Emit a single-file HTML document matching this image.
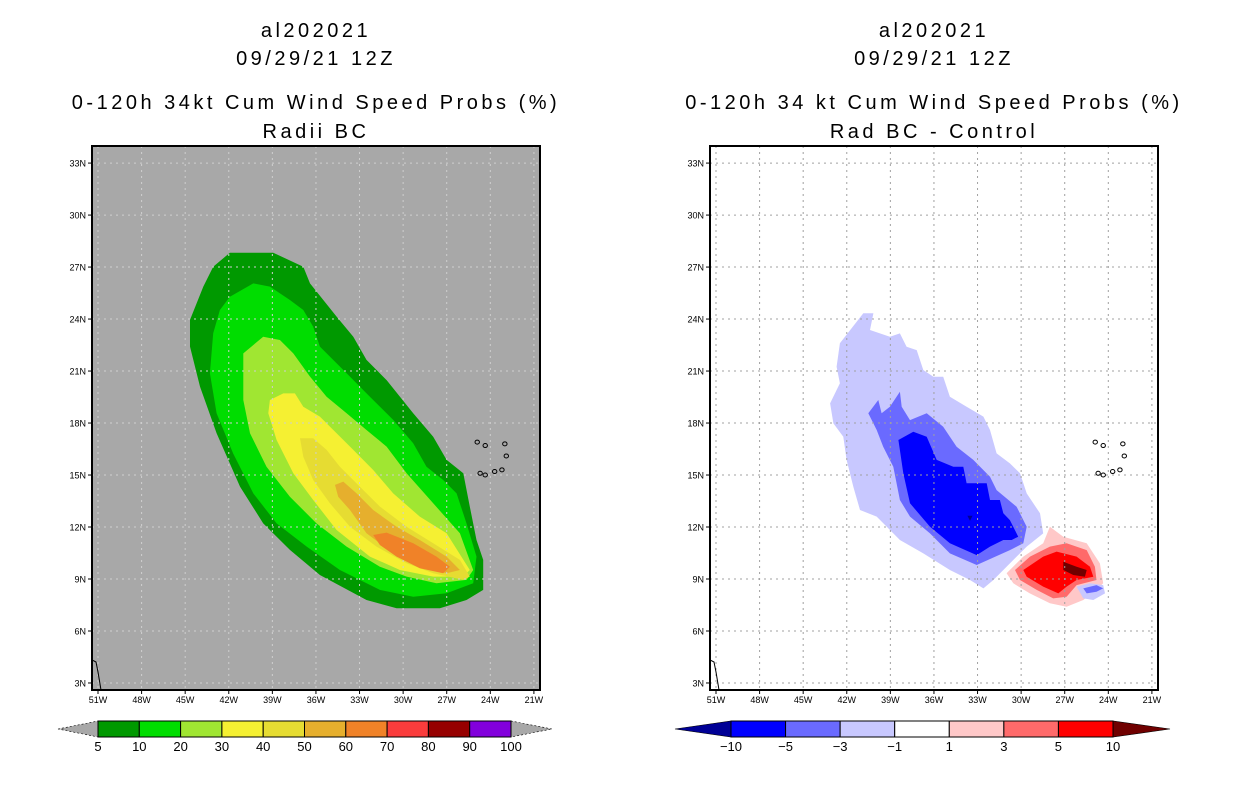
<!DOCTYPE html>
<html><head><meta charset="utf-8"><style>
html,body{margin:0;padding:0;background:#fff;}
svg{display:block;font-family:"Liberation Sans",sans-serif;}
</style></head><body>
<svg id="c" width="1236" height="800" viewBox="0 0 1236 800" xmlns="http://www.w3.org/2000/svg"></svg>
<script>
// ---------- data ----------
const latTicks = [33,30,27,24,21,18,15,12,9,6,3];
const lonTicks = [51,48,45,42,39,36,33,30,27,24,21];
const leftLevels = ["5","10","20","30","40","50","60","70","80","90","100"];
const leftColors = ["#009900","#00dd00","#a0e632","#f5f032","#e6dc32","#e6af2d","#f08228","#fa3c3c","#960000","#8200dc"];
const rightLevels = ["-10","-5","-3","-1","1","3","5","10"];
const rightColors = ["#000096","#0000ff","#6a6aff","#c8c8ff","#ffffff","#ffc8c8","#ff6a6a","#ff0000","#700000"];
// contours (west longitude, north latitude)
const p5 = [[41.92,27.83],[38.94,27.83],[36.87,27.02],[36.41,26.06],[34.58,24.14],[33.43,22.98],[32.52,21.64],[31.14,20.48],[29.31,18.56],[27.93,17.21],[27.01,15.87],[25.86,15.10],[25.41,13.18],[24.95,11.25],[24.49,10.10],[24.49,8.37],[25.64,7.79],[27.47,7.31],[30.45,7.31],[32.52,7.79],[35.73,9.23],[37.79,10.68],[39.63,12.21],[41.23,14.33],[42.84,17.41],[43.98,20.10],[44.67,22.41],[44.67,23.95],[43.75,25.87],[43.07,27.02]];
const p10 = [[41.92,25.29],[40.31,26.06],[39.17,25.87],[37.79,25.10],[36.87,24.52],[36.19,23.56],[35.73,22.41],[33.89,20.87],[32.29,19.52],[30.68,18.18],[29.31,16.83],[28.39,15.48],[27.24,14.71],[26.32,13.94],[25.64,12.21],[24.95,10.29],[25.18,8.75],[27.01,8.18],[29.31,7.98],[31.60,8.37],[34.35,9.52],[36.64,10.87],[38.71,12.21],[40.31,13.94],[41.70,16.25],[42.84,18.56],[43.30,20.87],[43.07,23.18],[42.61,24.52]];
const p20 = [[41.00,22.02],[39.63,22.98],[38.48,22.79],[37.56,22.02],[36.41,20.68],[35.27,19.52],[33.89,18.56],[32.52,17.60],[31.14,16.64],[29.76,15.10],[27.93,13.37],[26.09,11.64],[25.18,9.52],[25.64,8.95],[27.70,8.75],[29.76,9.14],[31.60,9.71],[33.89,10.87],[35.96,12.21],[37.79,13.75],[39.40,15.48],[40.54,17.41],[41.00,19.33]];
const p30 = [[39.17,19.33],[38.25,19.71],[37.45,19.71],[36.87,18.94],[35.73,18.37],[34.58,17.41],[33.43,16.45],[32.06,15.29],[30.68,13.94],[28.85,12.60],[27.01,11.64],[25.41,9.52],[25.86,9.14],[27.93,9.14],[30.22,9.52],[32.29,10.29],[34.58,11.83],[36.19,13.56],[37.56,15.10],[38.71,17.02],[39.28,18.56]];
const p40 = [[37.10,17.12],[36.19,17.12],[35.27,16.45],[34.35,15.48],[32.98,14.33],[31.60,13.18],[29.76,12.02],[27.93,11.06],[26.09,10.10],[25.41,9.14],[25.86,8.95],[27.93,9.33],[29.76,9.91],[31.83,10.87],[33.66,12.02],[35.04,13.37],[36.19,14.71],[36.87,16.06]];
const p50 = [[34.69,14.43],[34.12,14.62],[33.20,13.94],[32.06,12.98],[30.45,12.02],[28.85,11.25],[27.01,10.29],[26.09,9.52],[27.01,9.33],[28.85,9.71],[30.68,10.48],[32.52,11.64],[33.66,12.98],[34.47,13.75]];
const p60 = [[32.06,11.54],[31.14,11.68],[29.31,11.06],[27.70,10.29],[26.78,9.71],[27.24,9.33],[28.85,9.62],[30.45,10.29],[31.60,10.96]];
const n1 = [[42.47,22.60],[40.86,24.33],[40.17,24.33],[40.40,23.37],[39.03,22.98],[38.34,23.17],[37.88,22.40],[37.19,22.21],[36.73,21.06],[36.04,20.67],[35.36,20.67],[34.90,19.52],[33.75,18.94],[32.60,18.37],[32.14,17.60],[31.69,16.25],[30.77,15.67],[30.08,15.10],[29.62,13.94],[28.70,12.79],[28.48,11.63],[29.62,10.87],[30.77,9.90],[31.91,8.94],[32.60,8.46],[33.52,8.94],[34.90,9.52],[36.73,10.48],[38.34,11.25],[39.94,12.60],[41.09,12.98],[41.55,14.33],[42.01,15.87],[42.24,17.21],[42.92,17.98],[43.15,19.13],[42.47,20.29],[42.70,21.25]];
const n3 = [[40.52,18.56],[39.83,19.33],[39.60,18.56],[39.03,18.94],[38.34,19.81],[38.22,18.94],[37.65,18.17],[36.50,18.56],[35.36,17.79],[34.44,16.63],[33.29,15.87],[32.14,14.90],[31.69,14.13],[30.31,13.17],[29.62,12.02],[29.85,11.06],[30.77,10.67],[33.06,9.81],[34.90,10.48],[36.27,11.63],[37.65,12.60],[38.34,13.56],[38.80,15.48],[39.49,16.63],[39.94,17.60]];
const n5 = [[38.45,17.02],[37.42,17.50],[36.50,17.21],[35.81,15.87],[34.67,15.48],[33.98,15.48],[33.75,14.52],[32.37,14.52],[32.14,13.56],[31.46,13.56],[31.23,12.79],[30.77,12.40],[30.20,11.44],[30.65,11.25],[31.23,11.25],[32.14,10.87],[33.06,10.38],[34.90,11.06],[36.27,12.02],[37.65,13.37],[38.11,15.10],[38.34,16.44]];
const n10 = [[33.70,12.65],[33.35,12.65],[33.52,12.35]];
const r1 = [[31.00,9.33],[29.85,10.29],[28.48,11.06],[28.02,12.02],[27.10,11.44],[25.49,11.06],[24.58,9.90],[24.35,8.75],[24.81,8.37],[25.72,7.79],[26.87,7.40],[28.02,7.60],[29.40,8.17],[30.54,8.75]];
const r3 = [[30.42,9.52],[29.39,10.29],[28.02,10.87],[26.87,11.06],[25.49,10.67],[24.92,9.71],[24.81,8.94],[26.18,8.65],[26.87,7.98],[27.79,7.88],[28.93,8.37],[30.08,8.94]];
const r5 = [[29.85,9.52],[28.48,10.29],[27.56,10.58],[26.18,10.29],[25.26,9.71],[25.03,9.13],[26.18,8.94],[26.87,8.56],[27.44,8.17],[28.48,8.56],[29.62,9.13]];
const r10 = [[27.10,10.00],[26.18,9.71],[25.49,9.52],[25.61,9.13],[26.41,9.23],[27.10,9.52]];
const b1 = [[26.18,8.56],[25.26,8.75],[24.35,8.65],[24.23,8.17],[25.03,7.79],[25.72,7.88]];
const b3 = [[25.72,8.46],[24.81,8.65],[24.35,8.46],[24.81,8.27],[25.49,8.17]];
const islands = [[24.9,16.9],[24.35,16.7],[23.0,16.8],[22.9,16.1],[24.7,15.1],[24.35,15.0],[23.7,15.2],[23.2,15.3]];

// ---------- axes ----------
const NS="http://www.w3.org/2000/svg";
const svg=document.getElementById('c');
function el(tag,attrs,parent){const e=document.createElementNS(NS,tag);for(const k in attrs)e.setAttribute(k,attrs[k]);(parent||svg).appendChild(e);return e;}
function makeAxes(x0){
  return {x:lon=>x0+6+(51-lon)*14.53, y:lat=>579-(lat-9)*17.33};
}
const panels=[{x0:92,bg:"#a8a8a8",grid:"#cfcfcf",t1:"al202021",t2:"09/29/21 12Z",t3:"0-120h 34kt Cum Wind Speed Probs (%)",t4:"Radii BC",name:"left"},
              {x0:710,bg:"#ffffff",grid:"#a0a0a0",t1:"al202021",t2:"09/29/21 12Z",t3:"0-120h 34 kt Cum Wind Speed Probs (%)",t4:"Rad BC - Control",name:"right"}];
const W=448,T=146,B=690;
function poly(g,pts,ax,fill,name){
  const p=el('polygon',{points:pts.map(q=>ax.x(q[0]).toFixed(1)+','+ax.y(q[1]).toFixed(1)).join(' '),fill:fill},g);
  
  
}
panels.forEach((P,pi)=>{
  const ax=makeAxes(P.x0);
  const g=el('g',{});
  
  
  const cx=P.x0+W/2;
  [[P.t1,30],[P.t2,58],[P.t3,102],[P.t4,131]].forEach((t,i)=>{
    const tx=el('text',{x:cx,y:t[1]+7,'text-anchor':'middle','font-size':'20','letter-spacing':'3.5',fill:'#000'},g);
    tx.textContent=t[0];
    
    
  });
  const bg=el('rect',{x:P.x0,y:T,width:W,height:B-T,fill:P.bg},g);
  
  
  const clip=el('clipPath',{id:'clip'+pi},g);el('rect',{x:P.x0,y:T,width:W,height:B-T},clip);
  const m=el('g',{'clip-path':'url(#clip'+pi+')'},g);
  if(pi===0){
    [[p5,0],[p10,1],[p20,2],[p30,3],[p40,4],[p50,5],[p60,6]].forEach(a=>poly(m,a[0],ax,leftColors[a[1]],'prob-contour-'+leftLevels[a[1]]));
  } else {
    poly(m,n1,ax,rightColors[3],'diff-contour-minus1');
    poly(m,n3,ax,rightColors[2],'diff-contour-minus3');
    poly(m,n5,ax,rightColors[1],'diff-contour-minus5');
    poly(m,n10,ax,rightColors[0],'diff-contour-minus10');
    poly(m,r1,ax,rightColors[5],'diff-contour-plus1');
    poly(m,r3,ax,rightColors[6],'diff-contour-plus3');
    poly(m,r5,ax,rightColors[7],'diff-contour-plus5');
    poly(m,r10,ax,rightColors[8],'diff-contour-plus10');
    poly(m,b1,ax,rightColors[3],'diff-small-minus1');
    poly(m,b3,ax,rightColors[2],'diff-small-minus3');
  }
  latTicks.forEach(l=>{const y=ax.y(l);
    const gl=el('line',{x1:P.x0,x2:P.x0+W,y1:y,y2:y,stroke:P.grid,'stroke-width':1,'stroke-dasharray':'2,4'},m);
    
    el('line',{x1:P.x0-4,x2:P.x0,y1:y,y2:y,stroke:'#000','stroke-width':1},g);
    const t=el('text',{x:P.x0-6,y:y+3.5,'text-anchor':'end','font-size':'9',fill:'#000'},g);t.textContent=l+'N';
    
  });
  lonTicks.forEach(l=>{const x=ax.x(l);
    const gl=el('line',{x1:x,x2:x,y1:T,y2:B,stroke:P.grid,'stroke-width':1,'stroke-dasharray':'2,4'},m);
    
    el('line',{x1:x,x2:x,y1:B,y2:B+4,stroke:'#000','stroke-width':1},g);
    const t=el('text',{x:x,y:B+13,'text-anchor':'middle','font-size':'9',fill:'#000'},g);t.textContent=l+'W';
    
  });
  islands.forEach(q=>{const c=el('ellipse',{cx:ax.x(q[0]),cy:ax.y(q[1]),rx:2.2,ry:2,fill:'none',stroke:'#000','stroke-width':1},m);
    });
  const coast=el('polyline',{points:`${P.x0},${660} ${P.x0+4},${662} ${P.x0+6},${672} ${P.x0+9},${690}`,fill:'none',stroke:'#000','stroke-width':1},m);
  
  const fr=el('rect',{x:P.x0,y:T,width:W,height:B-T,fill:'none',stroke:'#000','stroke-width':2},g);
  
});

// ---------- colorbars ----------
function colorbar(x0,x1,tipL,tipR,colors,labels,endL,endR,name){
  const g=el('g',{});
  
  
  const y0=721,y1=737,ym=729;
  const n=colors.length, w=(x1-x0)/n;
  el('polygon',{points:`${tipL},${ym} ${x0},${y0} ${x0},${y1}`,fill:endL,stroke:'#000','stroke-width':0.6,'stroke-dasharray':endL==='#a8a8a8'?'2,2':''},g);
  el('polygon',{points:`${tipR},${ym} ${x1},${y0} ${x1},${y1}`,fill:endR,stroke:'#000','stroke-width':0.6,'stroke-dasharray':endR==='#a8a8a8'?'2,2':''},g);
  colors.forEach((c,i)=>{
    const r=el('rect',{x:x0+i*w,y:y0,width:w,height:y1-y0,fill:c,stroke:'#000','stroke-width':1},g);
    
  });
  labels.forEach((l,i)=>{
    const t=el('text',{x:x0+i*w,y:751,'text-anchor':'middle','font-size':'13',fill:'#000'},g);
    t.textContent=l.replace('-','\u2212');
    
  });
}
colorbar(98,511,58,552,leftColors,leftLevels,'#a8a8a8','#a8a8a8','left-colorbar');
colorbar(731,1113,675,1170,rightColors.slice(1,8),rightLevels,rightColors[0],rightColors[8],'right-colorbar');
</script>
</body></html>
